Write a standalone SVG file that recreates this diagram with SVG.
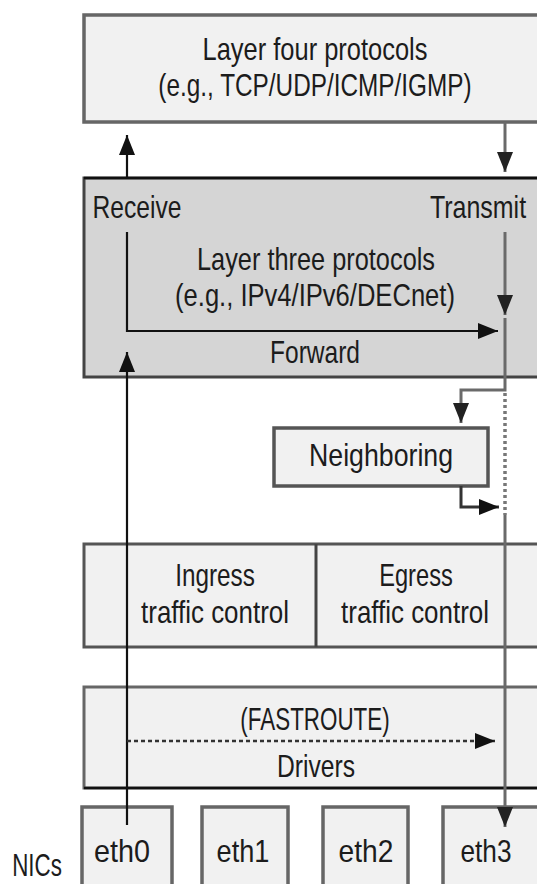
<svg xmlns="http://www.w3.org/2000/svg" width="537" height="884" viewBox="0 0 537 884">
<defs>
<marker id="ab" markerUnits="userSpaceOnUse" markerWidth="22" markerHeight="16" refX="20" refY="8" orient="auto"><path d="M0,0 L20,8 L0,16 Z" fill="#111"/></marker>
<marker id="ag" markerUnits="userSpaceOnUse" markerWidth="22" markerHeight="16" refX="20" refY="8" orient="auto"><path d="M0,0 L20,8 L0,16 Z" fill="#222"/></marker>
<style>
text{font-family:"Liberation Sans",Arial,sans-serif;font-size:32px;fill:#1c1c1c;text-anchor:middle}
.box{fill:#f1f1f1;stroke:#666;stroke-width:3.5}
.l3{fill:#d5d5d5;stroke:#444;stroke-width:3}
.blk{fill:none;stroke:#111;stroke-width:2.2}
.gry{fill:none;stroke:#6a6a6a;stroke-width:3}
.dash{fill:none;stroke:#777;stroke-width:3.5;stroke-dasharray:3 3}
.dot{fill:none;stroke:#333;stroke-width:2.5;stroke-dasharray:4 3}
</style>
</defs>
<rect width="537" height="884" fill="#fff"/>
<g id="layer4">
<rect class="box" x="84" y="15" width="470" height="107"/>
<text transform="translate(315,60) scale(0.796,1)">Layer four protocols</text>
<text transform="translate(315,96) scale(0.761,1)">(e.g., TCP/UDP/ICMP/IGMP)</text>
</g>
<g id="layer3">
<rect class="l3" x="84" y="178" width="470" height="199"/>
<line x1="84" y1="178" x2="537" y2="178" stroke="#111" stroke-width="2.5"/>
<text transform="translate(137,218) scale(0.77,1)">Receive</text>
<text transform="translate(478,218) scale(0.78,1)">Transmit</text>
<text transform="translate(316,270) scale(0.792,1)">Layer three protocols</text>
<text transform="translate(315,306) scale(0.799,1)">(e.g., IPv4/IPv6/DECnet)</text>
<text transform="translate(315,363) scale(0.767,1)">Forward</text>
</g>
<g id="neighboring">
<rect class="box" x="274" y="428" width="214" height="58" style="stroke:#555"/>
<text transform="translate(381,466) scale(0.835,1)">Neighboring</text>
</g>
<g id="trafficcontrol">
<rect class="box" x="84" y="544" width="470" height="103" style="stroke:#555;stroke-width:3"/>
<line x1="316" y1="544" x2="316" y2="647" stroke="#444" stroke-width="3"/>
<text transform="translate(215,586) scale(0.76,1)">Ingress</text>
<text transform="translate(215,623) scale(0.81,1)">traffic control</text>
<text transform="translate(416,586) scale(0.74,1)">Egress</text>
<text transform="translate(415,623) scale(0.81,1)">traffic control</text>
</g>
<g id="drivers">
<rect class="box" x="84" y="687" width="470" height="101" style="stroke:#666;stroke-width:3"/>
<line x1="84" y1="788" x2="537" y2="788" stroke="#111" stroke-width="2.5"/>
<text transform="translate(315,730) scale(0.7,1)">(FASTROUTE)</text>
<text transform="translate(316,777) scale(0.77,1)">Drivers</text>
</g>
<g id="nics">
<text transform="translate(37,876) scale(0.7,1)">NICs</text>
</g>
<g id="eth0"><rect class="box" x="82" y="807" width="90" height="100"/><text transform="translate(122,862) scale(0.9,1)">eth0</text></g>
<g id="eth1"><rect class="box" x="202" y="807" width="86" height="100"/><text transform="translate(243,862) scale(0.85,1)">eth1</text></g>
<g id="eth2"><rect class="box" x="323" y="807" width="85" height="100"/><text transform="translate(366,862) scale(0.88,1)">eth2</text></g>
<g id="eth3"><rect class="box" x="443" y="807" width="110" height="100"/><text transform="translate(486,862) scale(0.82,1)">eth3</text></g>
<g id="connectors">
<path class="blk" d="M127,178 V135" marker-end="url(#ab)"/>
<path class="gry" d="M505,122 V172" marker-end="url(#ag)"/>
<path class="blk" d="M127,232 V331 H498" marker-end="url(#ab)"/>
<path class="blk" d="M127,825 V352" marker-end="url(#ab)"/>
<path class="gry" d="M505,232 V315" marker-end="url(#ag)"/>
<path class="gry" d="M505,318 V390 H461 V423" marker-end="url(#ag)"/>
<path class="dash" d="M505,393 V515"/>
<path class="gry" d="M461,486 V507 H499" style="stroke:#333" marker-end="url(#ab)"/>
<path class="gry" d="M505,515 V827" marker-end="url(#ag)"/>
<path class="dot" d="M127,741 H495" marker-end="url(#ab)"/>
</g>
</svg>
